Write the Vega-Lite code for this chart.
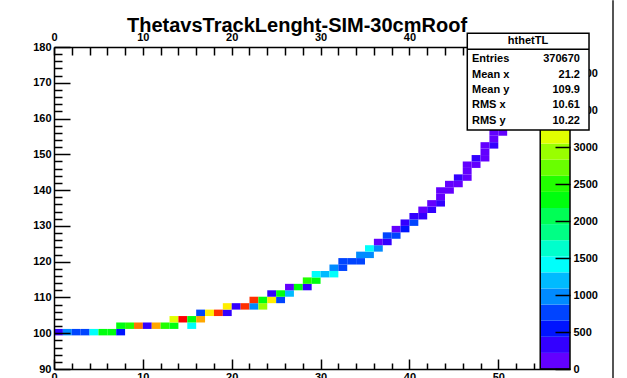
{
  "$schema": "https://vega.github.io/schema/vega-lite/v6.json",
  "width": 516,
  "height": 322,
  "autosize": {"type": "none"},
  "padding": {"left": 54, "top": 47, "right": 57, "bottom": 9},
  "background": "white",
  "title": {"text": "ThetavsTrackLenght-SIM-30cmRoof", "font": "Liberation Sans", "fontSize": 20, "fontWeight": "bold", "color": "#000000", "anchor": "middle", "dx": -15, "offset": -37},
  "config": {
    "view": {"stroke": null},
    "axis": {"labelFont": "Liberation Sans", "labelFontWeight": "bold", "labelFontSize": 11, "labelColor": "#000000", "tickColor": "#000000", "domainColor": "#000000", "tickWidth": 1.5, "domainWidth": 1.5, "grid": false, "labelFlush": false, "labelOverlap": false, "labelBound": false}
  },
  "datasets": {
    "cells": [
      {"xl":0,"xh":1,"yl":99.4,"yh":101.2,"z":327},
      {"xl":1,"xh":2,"yl":99.4,"yh":101.2,"z":981},
      {"xl":2,"xh":3,"yl":99.4,"yh":101.2,"z":763},
      {"xl":3,"xh":4,"yl":99.4,"yh":101.2,"z":763},
      {"xl":4,"xh":5,"yl":99.4,"yh":101.2,"z":1417},
      {"xl":5,"xh":6,"yl":99.4,"yh":101.2,"z":2289},
      {"xl":6,"xh":7,"yl":99.4,"yh":101.2,"z":2289},
      {"xl":7,"xh":8,"yl":99.4,"yh":101.2,"z":545},
      {"xl":7,"xh":8,"yl":101.2,"yh":103,"z":2289},
      {"xl":8,"xh":9,"yl":101.2,"yh":103,"z":2507},
      {"xl":9,"xh":10,"yl":101.2,"yh":103,"z":3815},
      {"xl":10,"xh":11,"yl":101.2,"yh":103,"z":327},
      {"xl":11,"xh":12,"yl":101.2,"yh":103,"z":3597},
      {"xl":12,"xh":13,"yl":101.2,"yh":103,"z":2507},
      {"xl":13,"xh":14,"yl":101.2,"yh":103,"z":2289},
      {"xl":13,"xh":14,"yl":103,"yh":104.8,"z":3161},
      {"xl":14,"xh":15,"yl":103,"yh":104.8,"z":4251},
      {"xl":15,"xh":16,"yl":101.2,"yh":103,"z":1417},
      {"xl":15,"xh":16,"yl":103,"yh":104.8,"z":2289},
      {"xl":16,"xh":17,"yl":103,"yh":104.8,"z":3597},
      {"xl":16,"xh":17,"yl":104.8,"yh":106.6,"z":763},
      {"xl":17,"xh":18,"yl":104.8,"yh":106.6,"z":3379},
      {"xl":18,"xh":19,"yl":104.8,"yh":106.6,"z":4033},
      {"xl":19,"xh":20,"yl":104.8,"yh":106.6,"z":327},
      {"xl":19,"xh":20,"yl":106.6,"yh":108.4,"z":3379},
      {"xl":20,"xh":21,"yl":106.6,"yh":108.4,"z":327},
      {"xl":21,"xh":22,"yl":106.6,"yh":108.4,"z":4033},
      {"xl":22,"xh":23,"yl":106.6,"yh":108.4,"z":981},
      {"xl":22,"xh":23,"yl":108.4,"yh":110.2,"z":4033},
      {"xl":23,"xh":24,"yl":106.6,"yh":108.4,"z":2943},
      {"xl":23,"xh":24,"yl":108.4,"yh":110.2,"z":2289},
      {"xl":24,"xh":25,"yl":108.4,"yh":110.2,"z":3379},
      {"xl":24,"xh":25,"yl":110.2,"yh":112,"z":327},
      {"xl":25,"xh":26,"yl":108.4,"yh":110.2,"z":763},
      {"xl":25,"xh":26,"yl":110.2,"yh":112,"z":2289},
      {"xl":26,"xh":27,"yl":110.2,"yh":112,"z":1199},
      {"xl":26,"xh":27,"yl":112,"yh":113.8,"z":109},
      {"xl":27,"xh":28,"yl":112,"yh":113.8,"z":2289},
      {"xl":28,"xh":29,"yl":112,"yh":113.8,"z":327},
      {"xl":28,"xh":29,"yl":113.8,"yh":115.6,"z":2507},
      {"xl":29,"xh":30,"yl":113.8,"yh":115.6,"z":2289},
      {"xl":29,"xh":30,"yl":115.6,"yh":117.4,"z":1417},
      {"xl":30,"xh":31,"yl":115.6,"yh":117.4,"z":1199},
      {"xl":31,"xh":32,"yl":115.6,"yh":117.4,"z":1417},
      {"xl":31,"xh":32,"yl":117.4,"yh":119.2,"z":981},
      {"xl":32,"xh":33,"yl":117.4,"yh":119.2,"z":763},
      {"xl":32,"xh":33,"yl":119.2,"yh":121,"z":763},
      {"xl":33,"xh":34,"yl":119.2,"yh":121,"z":763},
      {"xl":34,"xh":35,"yl":119.2,"yh":121,"z":763},
      {"xl":34,"xh":35,"yl":121,"yh":122.8,"z":981},
      {"xl":35,"xh":36,"yl":121,"yh":122.8,"z":981},
      {"xl":35,"xh":36,"yl":122.8,"yh":124.6,"z":1417},
      {"xl":36,"xh":37,"yl":122.8,"yh":124.6,"z":981},
      {"xl":36,"xh":37,"yl":124.6,"yh":126.4,"z":109},
      {"xl":37,"xh":38,"yl":124.6,"yh":126.4,"z":327},
      {"xl":37,"xh":38,"yl":126.4,"yh":128.2,"z":763},
      {"xl":38,"xh":39,"yl":126.4,"yh":128.2,"z":763},
      {"xl":38,"xh":39,"yl":128.2,"yh":130,"z":109},
      {"xl":39,"xh":40,"yl":128.2,"yh":130,"z":545},
      {"xl":39,"xh":40,"yl":130,"yh":131.8,"z":327},
      {"xl":40,"xh":41,"yl":130,"yh":131.8,"z":763},
      {"xl":40,"xh":41,"yl":131.8,"yh":133.6,"z":327},
      {"xl":41,"xh":42,"yl":131.8,"yh":133.6,"z":327},
      {"xl":41,"xh":42,"yl":133.6,"yh":135.4,"z":109},
      {"xl":42,"xh":43,"yl":133.6,"yh":135.4,"z":327},
      {"xl":42,"xh":43,"yl":135.4,"yh":137.2,"z":109},
      {"xl":43,"xh":44,"yl":135.4,"yh":137.2,"z":327},
      {"xl":43,"xh":44,"yl":137.2,"yh":139,"z":109},
      {"xl":43,"xh":44,"yl":139,"yh":140.8,"z":109},
      {"xl":44,"xh":45,"yl":139,"yh":140.8,"z":109},
      {"xl":44,"xh":45,"yl":140.8,"yh":142.6,"z":109},
      {"xl":45,"xh":46,"yl":140.8,"yh":142.6,"z":109},
      {"xl":45,"xh":46,"yl":142.6,"yh":144.4,"z":327},
      {"xl":46,"xh":47,"yl":142.6,"yh":144.4,"z":109},
      {"xl":46,"xh":47,"yl":144.4,"yh":146.2,"z":109},
      {"xl":46,"xh":47,"yl":146.2,"yh":148,"z":109},
      {"xl":47,"xh":48,"yl":146.2,"yh":148,"z":109},
      {"xl":47,"xh":48,"yl":148,"yh":149.8,"z":327},
      {"xl":48,"xh":49,"yl":148,"yh":149.8,"z":109},
      {"xl":48,"xh":49,"yl":149.8,"yh":151.6,"z":109},
      {"xl":48,"xh":49,"yl":151.6,"yh":153.4,"z":109},
      {"xl":49,"xh":50,"yl":151.6,"yh":153.4,"z":327},
      {"xl":49,"xh":50,"yl":153.4,"yh":155.2,"z":109},
      {"xl":49,"xh":50,"yl":155.2,"yh":157,"z":109},
      {"xl":50,"xh":51,"yl":155.2,"yh":157,"z":109},
      {"xl":50,"xh":51,"yl":157,"yh":158.8,"z":109},
      {"xl":50,"xh":51,"yl":158.8,"yh":160.6,"z":109},
      {"xl":51,"xh":52,"yl":158.8,"yh":160.6,"z":109},
      {"xl":51,"xh":52,"yl":160.6,"yh":162.4,"z":109},
      {"xl":51,"xh":52,"yl":162.4,"yh":164.2,"z":109},
      {"xl":52,"xh":53,"yl":162.4,"yh":164.2,"z":109},
      {"xl":52,"xh":53,"yl":164.2,"yh":166,"z":109},
      {"xl":52,"xh":53,"yl":166,"yh":167.8,"z":109},
      {"xl":53,"xh":54,"yl":166,"yh":167.8,"z":109},
      {"xl":53,"xh":54,"yl":167.8,"yh":169.6,"z":109},
      {"xl":53,"xh":54,"yl":169.6,"yh":171.4,"z":109}
    ],
    "palette": [
      {"lo":0,"hi":218,"z":109},
      {"lo":218,"hi":436,"z":327},
      {"lo":436,"hi":654,"z":545},
      {"lo":654,"hi":872,"z":763},
      {"lo":872,"hi":1090,"z":981},
      {"lo":1090,"hi":1308,"z":1199},
      {"lo":1308,"hi":1526,"z":1417},
      {"lo":1526,"hi":1744,"z":1635},
      {"lo":1744,"hi":1962,"z":1853},
      {"lo":1962,"hi":2180,"z":2071},
      {"lo":2180,"hi":2398,"z":2289},
      {"lo":2398,"hi":2616,"z":2507},
      {"lo":2616,"hi":2834,"z":2725},
      {"lo":2834,"hi":3052,"z":2943},
      {"lo":3052,"hi":3270,"z":3161},
      {"lo":3270,"hi":3488,"z":3379},
      {"lo":3488,"hi":3706,"z":3597},
      {"lo":3706,"hi":3924,"z":3815},
      {"lo":3924,"hi":4142,"z":4033},
      {"lo":4142,"hi":4360,"z":4251}
    ]
  },
  "layer": [
    {
      "data": {"name": "cells"},
      "layer": [
        {
          "mark": {"type": "rect"},
          "encoding": {
            "x": {"field": "xl", "type": "quantitative", "scale": {"domain": [0, 58.07], "nice": false, "zero": false},
                  "axis": {"orient": "bottom", "values": [0,10,20,30,40,50], "tickSize": -10, "labelPadding": 12, "title": null, "zindex": 1}},
            "x2": {"field": "xh"},
            "y": {"field": "yl", "type": "quantitative", "scale": {"domain": [90, 180], "nice": false, "zero": false},
                  "axis": {"orient": "left", "values": [90,100,110,120,130,140,150,160,170,180], "tickSize": -16, "labelPadding": 19, "title": null, "zindex": 1}},
            "y2": {"field": "yh"},
            "color": {"field": "z", "type": "quantitative",
                      "scale": {"type": "threshold",
                                "domain": [218,436,654,872,1090,1308,1526,1744,1962,2180,2398,2616,2834,3052,3270,3488,3706,3924,4142],
                                "range": ["#6300ff","#3300ff","#0014ff","#0044ff","#008bff","#00bbff","#00fffb","#00ffcc","#00ff85","#00ff55","#00ff0e","#22ff00","#69ff00","#99ff00","#e1ff00","#ffee00","#ffa700","#ff7700","#ff3000","#ff0000"]},
                      "legend": null}
          }
        },
        {
          "mark": {"type": "point", "opacity": 0},
          "encoding": {
            "x": {"field": "xl", "type": "quantitative", "scale": {"domain": [0, 58.07], "nice": false, "zero": false},
                  "axis": {"orient": "bottom", "values": [2,4,6,8,12,14,16,18,22,24,26,28,32,34,36,38,42,44,46,48,52,54], "tickSize": -6, "labels": false, "domain": false, "title": null, "zindex": 1}},
            "y": {"field": "yl", "type": "quantitative", "scale": {"domain": [90, 180], "nice": false, "zero": false},
                  "axis": {"orient": "left", "values": [92,94,96,98,102,104,106,108,112,114,116,118,122,124,126,128,132,134,136,138,142,144,146,148,152,154,156,158,162,164,166,168,172,174,176,178], "tickSize": -8, "labels": false, "domain": false, "title": null, "zindex": 1}}
          }
        },
        {
          "mark": {"type": "point", "opacity": 0},
          "encoding": {
            "x": {"field": "xl", "type": "quantitative", "scale": {"domain": [0, 58.07], "nice": false, "zero": false},
                  "axis": {"orient": "top", "values": [0,2,4,6,8,10,12,14,16,18,20,22,24,26,28,30,32,34,36,38,40,42,44,46,48,50,52,54], "tickSize": -8, "labelPadding": 13, "labelExpr": "datum.value % 10 === 0 ? datum.label : ''", "title": null, "zindex": 0}}
          }
        }
      ],
      "resolve": {"axis": {"x": "independent", "y": "independent"}}
    },
    {
      "layer": [
        {
          "data": {"name": "palette"},
          "mark": {"type": "rect"},
          "encoding": {
            "x": {"datum": 54.72, "type": "quantitative", "scale": {"domain": [0, 58.07], "nice": false, "zero": false}, "axis": null},
            "x2": {"datum": 58.07},
            "y": {"field": "lo", "type": "quantitative", "scale": {"domain": [0, 4360], "nice": false, "zero": false},
                  "axis": {"orient": "right", "values": [0,500,1000,1500,2000,2500,3000], "tickSize": -15, "labels": false, "domain": false, "title": null, "zindex": 1}},
            "y2": {"field": "hi"},
            "color": {"field": "z", "type": "quantitative",
                      "scale": {"type": "threshold",
                                "domain": [218,436,654,872,1090,1308,1526,1744,1962,2180,2398,2616,2834,3052,3270,3488,3706,3924,4142],
                                "range": ["#6300ff","#3300ff","#0014ff","#0044ff","#008bff","#00bbff","#00fffb","#00ffcc","#00ff85","#00ff55","#00ff0e","#22ff00","#69ff00","#99ff00","#e1ff00","#ffee00","#ffa700","#ff7700","#ff3000","#ff0000"]},
                      "legend": null}
          }
        },
        {
          "data": {"values": [{}]},
          "mark": {"type": "rect", "fill": null, "stroke": "#000000", "strokeWidth": 1.5},
          "encoding": {
            "x": {"datum": 54.72, "type": "quantitative", "scale": {"domain": [0, 58.07], "nice": false, "zero": false}, "axis": null},
            "x2": {"datum": 58.07},
            "y": {"datum": 0, "type": "quantitative", "scale": {"domain": [0, 4360], "nice": false, "zero": false},
                  "axis": {"orient": "right", "values": [0,500,1000,1500,2000,2500,3000,3500,4000], "format": "d", "ticks": false, "labelPadding": 3, "domain": false, "title": null, "zindex": 0}},
            "y2": {"datum": 4360}
          }
        }
      ],
      "resolve": {"axis": {"y": "independent"}}
    },
    {
      "data": {"values": [{}]},
      "layer": [
        {
          "mark": {"type": "rect", "fill": "#ffffff", "stroke": "#000000", "strokeWidth": 1.5},
          "encoding": {
            "x": {"datum": 46.51, "type": "quantitative", "scale": {"domain": [0, 58.07], "nice": false, "zero": false}, "axis": null},
            "x2": {"datum": 60.21},
            "y": {"datum": 156.8, "type": "quantitative", "scale": {"domain": [90, 180], "nice": false, "zero": false}, "axis": null},
            "y2": {"datum": 183.83}
          }
        },
        {
          "mark": {"type": "rule", "stroke": "#000000", "strokeWidth": 1.5},
          "encoding": {
            "x": {"datum": 46.51, "type": "quantitative", "scale": {"domain": [0, 58.07], "nice": false, "zero": false}, "axis": null},
            "x2": {"datum": 60.21},
            "y": {"datum": 179.36, "type": "quantitative", "scale": {"domain": [90, 180], "nice": false, "zero": false}, "axis": null}
          }
        },
        {
          "mark": {"type": "text", "align": "center", "baseline": "middle", "font": "Liberation Sans", "fontWeight": "bold", "fontSize": 11, "color": "#000000"},
          "encoding": {
            "x": {"datum": 53.34, "type": "quantitative", "scale": {"domain": [0, 58.07], "nice": false, "zero": false}, "axis": null},
            "y": {"datum": 181.68, "type": "quantitative", "scale": {"domain": [90, 180], "nice": false, "zero": false}, "axis": null},
            "text": {"value": "hthetTL"}
          }
        },
        {
          "mark": {"type": "text", "align": "left", "baseline": "middle", "lineHeight": 15.4, "font": "Liberation Sans", "fontWeight": "bold", "fontSize": 11, "color": "#000000"},
          "encoding": {
            "x": {"datum": 47.04, "type": "quantitative", "scale": {"domain": [0, 58.07], "nice": false, "zero": false}, "axis": null},
            "y": {"datum": 176.56, "type": "quantitative", "scale": {"domain": [90, 180], "nice": false, "zero": false}, "axis": null},
            "text": {"value": ["Entries", "Mean x", "Mean y", "RMS x", "RMS y"]}
          }
        },
        {
          "mark": {"type": "text", "align": "right", "baseline": "middle", "lineHeight": 15.4, "font": "Liberation Sans", "fontWeight": "bold", "fontSize": 11, "color": "#000000"},
          "encoding": {
            "x": {"datum": 59.19, "type": "quantitative", "scale": {"domain": [0, 58.07], "nice": false, "zero": false}, "axis": null},
            "y": {"datum": 176.56, "type": "quantitative", "scale": {"domain": [90, 180], "nice": false, "zero": false}, "axis": null},
            "text": {"value": ["370670", "21.2", "109.9", "10.61", "10.22"]}
          }
        },
        {
          "mark": {"type": "rule", "stroke": "#555555", "strokeWidth": 2},
          "encoding": {
            "x": {"datum": 62.91, "type": "quantitative", "scale": {"domain": [0, 58.07], "nice": false, "zero": false}, "axis": null},
            "y": {"datum": 87.5, "type": "quantitative", "scale": {"domain": [90, 180], "nice": false, "zero": false}, "axis": null},
            "y2": {"datum": 193.1}
          }
        }
      ]
    }
  ],
  "resolve": {"scale": {"y": "independent"}, "axis": {"x": "independent", "y": "independent"}}
}
